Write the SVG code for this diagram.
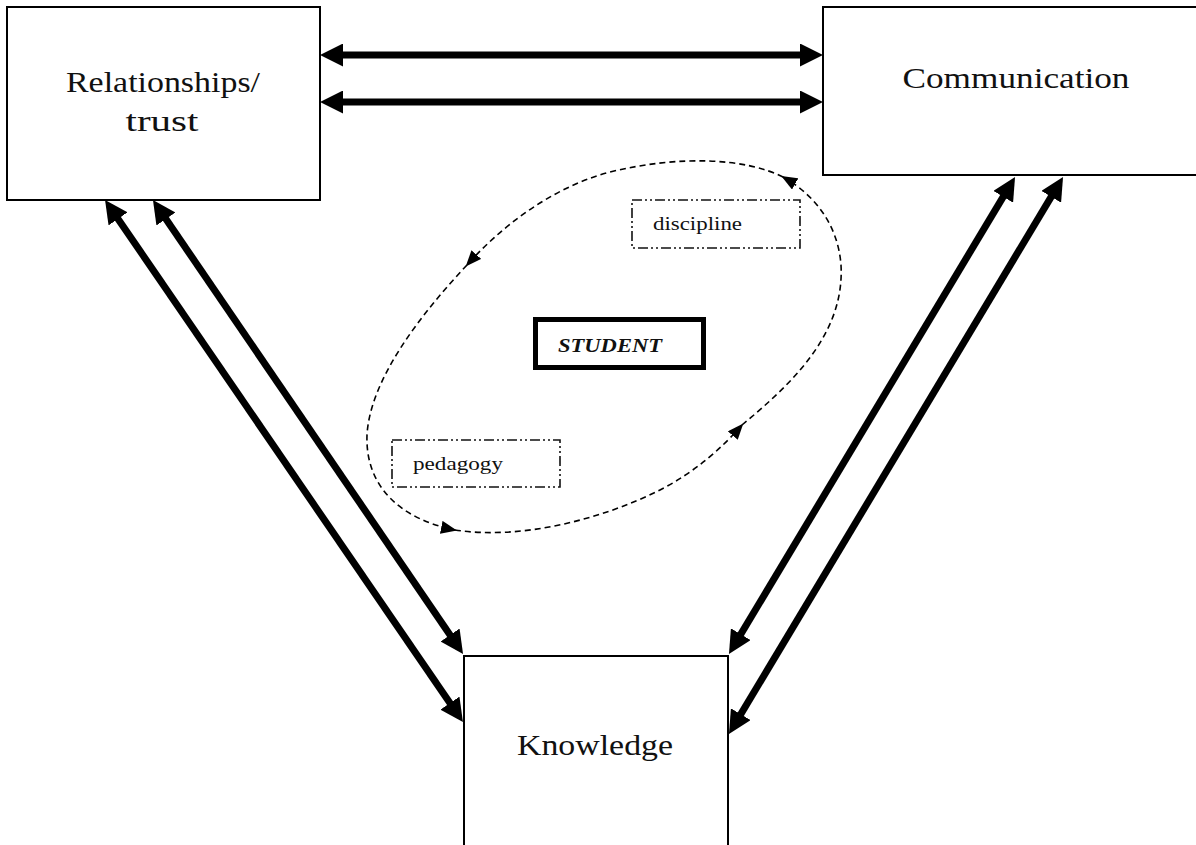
<svg xmlns="http://www.w3.org/2000/svg" width="1196" height="845" viewBox="0 0 1196 845">
<style>
.box{fill:#fff;stroke:#000;stroke-width:2}
.lbl{font-family:"Liberation Serif","Times New Roman",serif;font-size:30px;fill:#111;text-anchor:middle}
.small{font-family:"Liberation Serif","Times New Roman",serif;font-size:19px;fill:#111}
.ddot{fill:none;stroke:#111;stroke-width:1.6;stroke-dasharray:10 3 2 3 2 3}
.thick{stroke:#000;stroke-width:7;fill:none;marker-start:url(#big);marker-end:url(#big)}
.loop{stroke:#000;stroke-width:1.6;fill:none;stroke-dasharray:6 4;marker-end:url(#small)}
</style>
<defs>
<marker id="big" markerUnits="userSpaceOnUse" viewBox="0 0 23 23" markerWidth="23" markerHeight="23" refX="13" refY="11.5" orient="auto-start-reverse">
<path d="M0,0 L23,11.5 L0,23 z" fill="#000"/>
</marker>
<marker id="small" markerUnits="userSpaceOnUse" viewBox="0 0 16 13" markerWidth="16" markerHeight="13" refX="14" refY="6.5" orient="auto">
<path d="M0,0 L16,6.5 L0,13 z" fill="#000"/>
</marker>
</defs>
<rect width="1196" height="845" fill="#fff"/>
<g id="relationships">
<rect class="box" x="7" y="7" width="313" height="193"/>
<text class="lbl" x="163" y="92" textLength="194" lengthAdjust="spacingAndGlyphs">Relationships/</text>
<text class="lbl" x="162" y="131" textLength="73" lengthAdjust="spacingAndGlyphs">trust</text>
</g>
<g id="communication">
<rect class="box" x="823" y="7" width="380" height="168"/>
<text class="lbl" x="1016" y="88" textLength="227" lengthAdjust="spacingAndGlyphs">Communication</text>
</g>
<g id="knowledge">
<rect class="box" x="464" y="656" width="264" height="210"/>
<text class="lbl" x="595" y="755" textLength="156" lengthAdjust="spacingAndGlyphs">Knowledge</text>
</g>
<g id="student">
<rect x="535.5" y="319.5" width="168" height="48" fill="#fff" stroke="#000" stroke-width="5"/>
<text x="558" y="352" font-family="'Liberation Serif','Times New Roman',serif" font-size="19" font-weight="bold" font-style="italic" textLength="104" lengthAdjust="spacingAndGlyphs" fill="#111">STUDENT</text>
</g>
<g id="discipline">
<rect class="ddot" x="632" y="200" width="168" height="48"/>
<text class="small" x="653" y="230" textLength="89" lengthAdjust="spacingAndGlyphs">discipline</text>
</g>
<g id="pedagogy">
<rect class="ddot" x="392" y="440" width="168" height="47"/>
<text class="small" x="413" y="470" textLength="90" lengthAdjust="spacingAndGlyphs">pedagogy</text>
</g>
<g id="connectors">
<line class="thick" x1="330" y1="55" x2="813" y2="55"/>
<line class="thick" x1="330" y1="102" x2="813" y2="102"/>
<line class="thick" x1="110.7" y1="208.2" x2="457.3" y2="713.8"/>
<line class="thick" x1="158.6" y1="208.3" x2="457.4" y2="645.7"/>
<line class="thick" x1="1009.9" y1="185.6" x2="734.1" y2="645.4"/>
<line class="thick" x1="1057.9" y1="185.6" x2="734.1" y2="725.4"/>
<path class="loop" d="M742,425 C790,385 845,335 841,265 C838,225 815,195 783,177"/>
<path class="loop" d="M783,177 C745,158 680,155 610,172 C550,188 500,228 467,265"/>
<path class="loop" d="M467,265 C420,315 370,380 367,435 C365,490 405,520 455,530"/>
<path class="loop" d="M455,530 C520,540 600,520 660,490 C695,472 722,448 742,425"/>
</g>
</svg>
